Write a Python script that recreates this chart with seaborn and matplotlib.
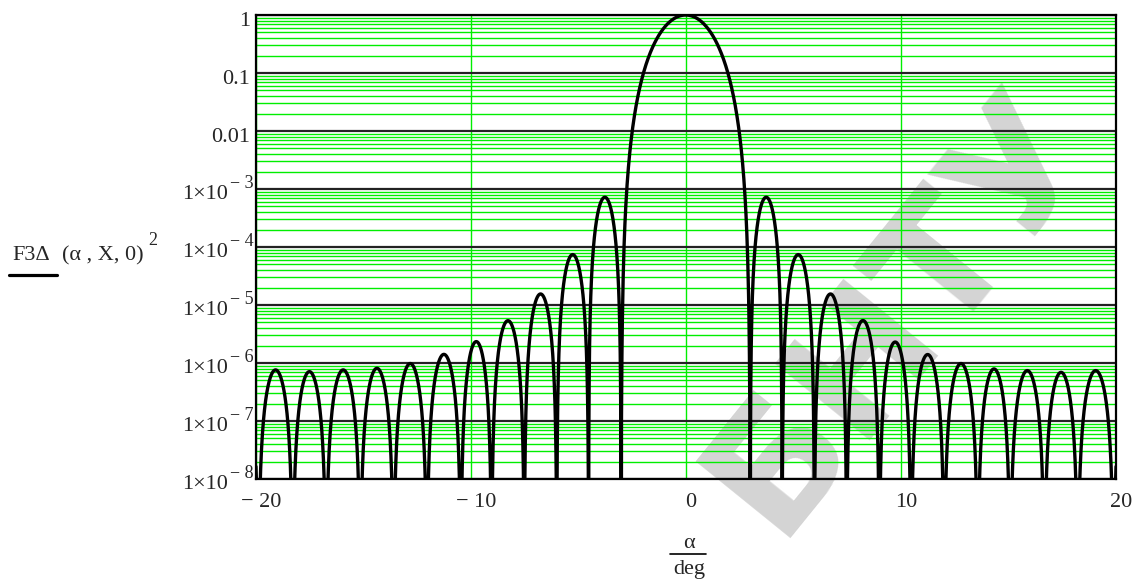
import numpy as np
import pandas as pd
import matplotlib
matplotlib.use("Agg")
import matplotlib.pyplot as plt
import matplotlib.transforms as mtransforms
from matplotlib.lines import Line2D
from matplotlib.ticker import FixedLocator, NullFormatter
import seaborn as sns

# ---------------- data ----------------
# angular positions (deg) of the pattern nulls, left to right
null_pos = [-21.5, -19.89, -18.29, -16.74, -15.15, -13.60, -12.05, -10.47, -9.04,
            -7.52, -6.01, -4.53, -3.02,
            2.99, 4.47, 5.97, 7.47, 8.99, 10.47, 12.01, 13.57, 15.08, 16.67,
            18.22, 19.89, 21.5]
# peak level of each lobe between consecutive nulls
lobe_peak = [7.4e-7, 7.6e-7, 7.1e-7, 7.6e-7, 8.1e-7, 9.8e-7, 1.41e-6, 2.34e-6,
             5.37e-6, 1.55e-5, 7.4e-5, 7.2e-4,
             1.0,
             7.2e-4, 7.4e-5, 1.55e-5, 5.4e-6, 2.3e-6, 1.4e-6, 9.8e-7, 7.9e-7,
             7.4e-7, 6.9e-7, 7.4e-7, 7.4e-7]
x_ticks = [-20, -10, 0, 10, 20]
x_tick_labels = ["\u2212 20", "\u2212 10", "0", "10", "20"]
y_decades = [0, -1, -2, -3, -4, -5, -6, -7, -8]
y_plain_labels = {0: "1", -1: "0.1", -2: "0.01"}

# ---------------- build curve ----------------
xs, ys = [], []
for i, pk in enumerate(lobe_peak):
    a, b = null_pos[i], null_pos[i + 1]
    t = np.linspace(0.0, 1.0, 301)
    k = 3.5 if pk >= 0.5 else 2.5
    v = pk * np.abs(np.sin(np.pi * t)) ** k
    xs.append(a + (b - a) * t)
    ys.append(np.maximum(v, 1e-14))
df = pd.DataFrame({"x": np.concatenate(xs), "y": np.concatenate(ys)})

# ---------------- figure ----------------
sns.set_style("white")
plt.rcParams["font.family"] = ["Liberation Serif", "DejaVu Serif"]

W, H = 1141, 587
fig = plt.figure(figsize=(W / 100, H / 100), dpi=100)
ax = fig.add_axes([256 / W, 1 - 479 / H, (1116 - 256) / W, (479 - 15) / H])
ax.set_facecolor("none")

GREEN = "#00ee00"

sns.lineplot(data=df, x="x", y="y", estimator=None, sort=False, color="black",
             linewidth=2.4, ax=ax, zorder=3)
ax.set_yscale("log")
ax.set_xlim(-20, 20)
ax.set_ylim(1e-8, 1)
ax.set_xlabel("")
ax.set_ylabel("")

# grid
ax.set_axisbelow(True)
ax.yaxis.set_major_locator(FixedLocator([10.0 ** e for e in y_decades]))
minor = [m * 10.0 ** e for e in y_decades[1:] for m in range(2, 10)]
ax.yaxis.set_minor_locator(FixedLocator(minor))
ax.yaxis.set_minor_formatter(NullFormatter())
ax.yaxis.set_major_formatter(NullFormatter())
ax.grid(which="minor", axis="y", color=GREEN, linewidth=1.0)
ax.grid(which="major", axis="y", color="#222222", linewidth=1.6)
ax.set_xticks(x_ticks)
ax.set_xticklabels(x_tick_labels, fontsize=16)
ax.grid(which="major", axis="x", color=GREEN, linewidth=1.0)
ax.tick_params(axis="both", which="both", length=0)
ax.tick_params(axis="x", pad=10)
for sp in ax.spines.values():
    sp.set_color("black")
    sp.set_linewidth(1.6)
    sp.set_visible(True)

shift = mtransforms.ScaledTranslation(5 / 100, 0, fig.dpi_scale_trans)
for lab in ax.get_xticklabels():
    lab.set_transform(lab.get_transform() + shift)

# y tick labels (Mathcad style)
bt = mtransforms.blended_transform_factory(ax.transAxes, ax.transData)
for e in y_decades:
    yv = 10.0 ** e
    if e in y_plain_labels:
        tr = bt + mtransforms.ScaledTranslation(-6 / 100, -10.5 / 100, fig.dpi_scale_trans)
        ax.text(0, yv, y_plain_labels[e], transform=tr, ha="right", va="baseline",
                fontsize=16, clip_on=False)
    else:
        tr = bt + mtransforms.ScaledTranslation(-28 / 100, -10 / 100, fig.dpi_scale_trans)
        ax.text(0, yv, "1\u00d710", transform=tr, ha="right", va="baseline",
                fontsize=16, clip_on=False)
        tr2 = bt + mtransforms.ScaledTranslation(-26 / 100, 1 / 100, fig.dpi_scale_trans)
        ax.text(0, yv, "\u2212 %d" % (-e), transform=tr2, ha="left", va="baseline",
                fontsize=13, clip_on=False)

# y axis title with trace sample
def fx(px):
    return px / W

def fy(py):
    return 1 - py / H

fig.text(fx(12), fy(260), "F3\u0394", fontsize=16, ha="left", va="baseline")
fig.text(fx(62), fy(260), "(\u03b1 , X, 0)", fontsize=16, ha="left", va="baseline")
fig.text(fx(148), fy(245), "2", fontsize=13, ha="left", va="baseline")
fig.add_artist(Line2D([fx(9), fx(57)], [fy(274.5), fy(274.5)], color="black",
                      linewidth=2.3, transform=fig.transFigure))

# x axis title as fraction alpha / deg
fig.text(fx(689), fy(548), "\u03b1", fontsize=16, ha="center", va="baseline")
fig.add_artist(Line2D([fx(670), fx(706)], [fy(554), fy(554)], color="black",
                      linewidth=1.2, transform=fig.transFigure))
fig.text(fx(689), fy(574), "deg", fontsize=16, ha="center", va="baseline")

# faint watermark
fig.text(fx(740), fy(509), "\u0411\u041d\u0422\u0423", fontsize=120, color="#d4d4d4",
         family="DejaVu Sans", weight="bold", rotation=51, rotation_mode="anchor",
         ha="left", va="center", zorder=-1)

fig.savefig("out.png", dpi=100)
